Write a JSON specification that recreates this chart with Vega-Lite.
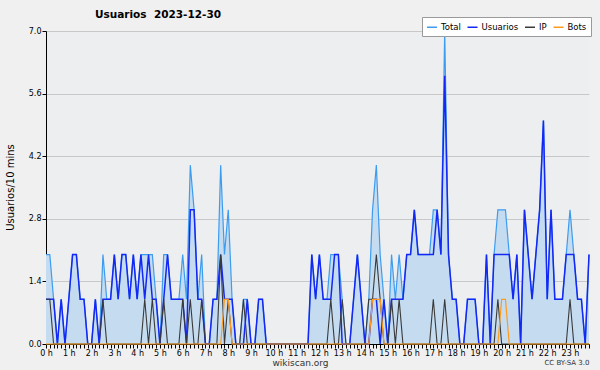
{
  "$schema": "https://vega.github.io/schema/vega-lite/v6.json",
  "width": 543,
  "height": 313,
  "autosize": {"type": "none"},
  "padding": {"left": 46, "top": 31, "right": 11, "bottom": 26},
  "background": "#f0f0f0",
  "config": {"view": {"stroke": null, "fill": "#eceef0"}, "font": "DejaVu Sans"},
  "title": {"text": "Usuarios\u00a0 2023-12-30", "anchor": "start", "frame": "group", "dx": 49, "offset": -4, "fontSize": 10.5, "fontWeight": "bold", "color": "#000000"},
  "data": {"values": [
    {"min":0,"Total":2,"Usuarios":1,"IP":1,"Bots":0},
    {"min":10,"Total":2,"Usuarios":1,"IP":1,"Bots":0},
    {"min":20,"Total":1,"Usuarios":1,"IP":0,"Bots":0},
    {"min":30,"Total":0,"Usuarios":0,"IP":0,"Bots":0},
    {"min":40,"Total":1,"Usuarios":1,"IP":0,"Bots":0},
    {"min":50,"Total":0,"Usuarios":0,"IP":0,"Bots":0},
    {"min":60,"Total":1,"Usuarios":1,"IP":0,"Bots":0},
    {"min":70,"Total":2,"Usuarios":2,"IP":0,"Bots":0},
    {"min":80,"Total":2,"Usuarios":2,"IP":0,"Bots":0},
    {"min":90,"Total":1,"Usuarios":1,"IP":0,"Bots":0},
    {"min":100,"Total":1,"Usuarios":1,"IP":0,"Bots":0},
    {"min":110,"Total":0,"Usuarios":0,"IP":0,"Bots":0},
    {"min":120,"Total":0,"Usuarios":0,"IP":0,"Bots":0},
    {"min":130,"Total":1,"Usuarios":1,"IP":0,"Bots":0},
    {"min":140,"Total":0,"Usuarios":0,"IP":0,"Bots":0},
    {"min":150,"Total":2,"Usuarios":1,"IP":1,"Bots":0},
    {"min":160,"Total":1,"Usuarios":1,"IP":0,"Bots":0},
    {"min":170,"Total":1,"Usuarios":1,"IP":0,"Bots":0},
    {"min":180,"Total":2,"Usuarios":2,"IP":0,"Bots":0},
    {"min":190,"Total":1,"Usuarios":1,"IP":0,"Bots":0},
    {"min":200,"Total":2,"Usuarios":2,"IP":0,"Bots":0},
    {"min":210,"Total":2,"Usuarios":2,"IP":0,"Bots":0},
    {"min":220,"Total":1,"Usuarios":1,"IP":0,"Bots":0},
    {"min":230,"Total":2,"Usuarios":2,"IP":0,"Bots":0},
    {"min":240,"Total":1,"Usuarios":1,"IP":0,"Bots":0},
    {"min":250,"Total":2,"Usuarios":2,"IP":0,"Bots":0},
    {"min":260,"Total":2,"Usuarios":1,"IP":1,"Bots":0},
    {"min":270,"Total":2,"Usuarios":2,"IP":0,"Bots":0},
    {"min":280,"Total":2,"Usuarios":1,"IP":1,"Bots":0},
    {"min":290,"Total":1,"Usuarios":1,"IP":0,"Bots":0},
    {"min":300,"Total":0,"Usuarios":0,"IP":0,"Bots":0},
    {"min":310,"Total":2,"Usuarios":1,"IP":1,"Bots":0},
    {"min":320,"Total":2,"Usuarios":2,"IP":0,"Bots":0},
    {"min":330,"Total":1,"Usuarios":1,"IP":0,"Bots":0},
    {"min":340,"Total":1,"Usuarios":1,"IP":0,"Bots":0},
    {"min":350,"Total":1,"Usuarios":1,"IP":0,"Bots":0},
    {"min":360,"Total":2,"Usuarios":1,"IP":1,"Bots":0},
    {"min":370,"Total":1,"Usuarios":0,"IP":0,"Bots":0},
    {"min":380,"Total":4,"Usuarios":3,"IP":1,"Bots":0},
    {"min":390,"Total":3,"Usuarios":3,"IP":0,"Bots":0},
    {"min":400,"Total":1,"Usuarios":1,"IP":0,"Bots":0},
    {"min":410,"Total":2,"Usuarios":1,"IP":1,"Bots":0},
    {"min":420,"Total":0,"Usuarios":0,"IP":0,"Bots":0},
    {"min":430,"Total":0,"Usuarios":0,"IP":0,"Bots":0},
    {"min":440,"Total":1,"Usuarios":1,"IP":0,"Bots":0},
    {"min":450,"Total":1,"Usuarios":1,"IP":0,"Bots":0},
    {"min":460,"Total":4,"Usuarios":2,"IP":2,"Bots":0},
    {"min":470,"Total":2,"Usuarios":1,"IP":0,"Bots":1},
    {"min":480,"Total":3,"Usuarios":1,"IP":1,"Bots":1},
    {"min":490,"Total":1,"Usuarios":1,"IP":0,"Bots":0},
    {"min":500,"Total":0,"Usuarios":0,"IP":0,"Bots":0},
    {"min":510,"Total":0,"Usuarios":0,"IP":0,"Bots":0},
    {"min":520,"Total":1,"Usuarios":0,"IP":1,"Bots":0},
    {"min":530,"Total":1,"Usuarios":1,"IP":0,"Bots":0},
    {"min":540,"Total":0,"Usuarios":0,"IP":0,"Bots":0},
    {"min":550,"Total":0,"Usuarios":0,"IP":0,"Bots":0},
    {"min":560,"Total":1,"Usuarios":1,"IP":0,"Bots":0},
    {"min":570,"Total":1,"Usuarios":1,"IP":0,"Bots":0},
    {"min":580,"Total":0,"Usuarios":0,"IP":0,"Bots":0},
    {"min":590,"Total":0,"Usuarios":0,"IP":0,"Bots":0},
    {"min":600,"Total":0,"Usuarios":0,"IP":0,"Bots":0},
    {"min":610,"Total":0,"Usuarios":0,"IP":0,"Bots":0},
    {"min":620,"Total":0,"Usuarios":0,"IP":0,"Bots":0},
    {"min":630,"Total":0,"Usuarios":0,"IP":0,"Bots":0},
    {"min":640,"Total":0,"Usuarios":0,"IP":0,"Bots":0},
    {"min":650,"Total":0,"Usuarios":0,"IP":0,"Bots":0},
    {"min":660,"Total":0,"Usuarios":0,"IP":0,"Bots":0},
    {"min":670,"Total":0,"Usuarios":0,"IP":0,"Bots":0},
    {"min":680,"Total":0,"Usuarios":0,"IP":0,"Bots":0},
    {"min":690,"Total":0,"Usuarios":0,"IP":0,"Bots":0},
    {"min":700,"Total":2,"Usuarios":2,"IP":0,"Bots":0},
    {"min":710,"Total":1,"Usuarios":1,"IP":0,"Bots":0},
    {"min":720,"Total":2,"Usuarios":2,"IP":0,"Bots":0},
    {"min":730,"Total":1,"Usuarios":1,"IP":0,"Bots":0},
    {"min":740,"Total":1,"Usuarios":1,"IP":0,"Bots":0},
    {"min":750,"Total":2,"Usuarios":1,"IP":1,"Bots":0},
    {"min":760,"Total":2,"Usuarios":2,"IP":0,"Bots":0},
    {"min":770,"Total":2,"Usuarios":2,"IP":0,"Bots":0},
    {"min":780,"Total":1,"Usuarios":0,"IP":1,"Bots":0},
    {"min":790,"Total":0,"Usuarios":0,"IP":0,"Bots":0},
    {"min":800,"Total":0,"Usuarios":0,"IP":0,"Bots":0},
    {"min":810,"Total":1,"Usuarios":1,"IP":0,"Bots":0},
    {"min":820,"Total":2,"Usuarios":2,"IP":0,"Bots":0},
    {"min":830,"Total":1,"Usuarios":1,"IP":0,"Bots":0},
    {"min":840,"Total":0,"Usuarios":0,"IP":0,"Bots":0},
    {"min":850,"Total":1,"Usuarios":0,"IP":1,"Bots":0},
    {"min":860,"Total":3,"Usuarios":1,"IP":1,"Bots":1},
    {"min":870,"Total":4,"Usuarios":1,"IP":2,"Bots":1},
    {"min":880,"Total":2,"Usuarios":0,"IP":1,"Bots":1},
    {"min":890,"Total":1,"Usuarios":1,"IP":0,"Bots":0},
    {"min":900,"Total":0,"Usuarios":0,"IP":0,"Bots":0},
    {"min":910,"Total":2,"Usuarios":1,"IP":1,"Bots":0},
    {"min":920,"Total":1,"Usuarios":1,"IP":0,"Bots":0},
    {"min":930,"Total":2,"Usuarios":1,"IP":1,"Bots":0},
    {"min":940,"Total":1,"Usuarios":1,"IP":0,"Bots":0},
    {"min":950,"Total":2,"Usuarios":2,"IP":0,"Bots":0},
    {"min":960,"Total":2,"Usuarios":2,"IP":0,"Bots":0},
    {"min":970,"Total":3,"Usuarios":3,"IP":0,"Bots":0},
    {"min":980,"Total":2,"Usuarios":2,"IP":0,"Bots":0},
    {"min":990,"Total":2,"Usuarios":2,"IP":0,"Bots":0},
    {"min":1000,"Total":2,"Usuarios":2,"IP":0,"Bots":0},
    {"min":1010,"Total":2,"Usuarios":2,"IP":0,"Bots":0},
    {"min":1020,"Total":3,"Usuarios":2,"IP":1,"Bots":0},
    {"min":1030,"Total":3,"Usuarios":3,"IP":0,"Bots":0},
    {"min":1040,"Total":2,"Usuarios":2,"IP":0,"Bots":0},
    {"min":1050,"Total":7,"Usuarios":6,"IP":1,"Bots":0},
    {"min":1060,"Total":2,"Usuarios":2,"IP":0,"Bots":0},
    {"min":1070,"Total":1,"Usuarios":1,"IP":0,"Bots":0},
    {"min":1080,"Total":1,"Usuarios":1,"IP":0,"Bots":0},
    {"min":1090,"Total":0,"Usuarios":0,"IP":0,"Bots":0},
    {"min":1100,"Total":0,"Usuarios":0,"IP":0,"Bots":0},
    {"min":1110,"Total":1,"Usuarios":1,"IP":0,"Bots":0},
    {"min":1120,"Total":1,"Usuarios":1,"IP":0,"Bots":0},
    {"min":1130,"Total":1,"Usuarios":1,"IP":0,"Bots":0},
    {"min":1140,"Total":0,"Usuarios":0,"IP":0,"Bots":0},
    {"min":1150,"Total":0,"Usuarios":0,"IP":0,"Bots":0},
    {"min":1160,"Total":2,"Usuarios":2,"IP":0,"Bots":0},
    {"min":1170,"Total":0,"Usuarios":0,"IP":0,"Bots":0},
    {"min":1180,"Total":2,"Usuarios":2,"IP":0,"Bots":0},
    {"min":1190,"Total":3,"Usuarios":2,"IP":1,"Bots":0},
    {"min":1200,"Total":3,"Usuarios":2,"IP":0,"Bots":1},
    {"min":1210,"Total":3,"Usuarios":2,"IP":0,"Bots":1},
    {"min":1220,"Total":2,"Usuarios":2,"IP":0,"Bots":0},
    {"min":1230,"Total":1,"Usuarios":1,"IP":0,"Bots":0},
    {"min":1240,"Total":2,"Usuarios":2,"IP":0,"Bots":0},
    {"min":1250,"Total":0,"Usuarios":0,"IP":0,"Bots":0},
    {"min":1260,"Total":3,"Usuarios":3,"IP":0,"Bots":0},
    {"min":1270,"Total":2,"Usuarios":2,"IP":0,"Bots":0},
    {"min":1280,"Total":1,"Usuarios":1,"IP":0,"Bots":0},
    {"min":1290,"Total":2,"Usuarios":2,"IP":0,"Bots":0},
    {"min":1300,"Total":3,"Usuarios":3,"IP":0,"Bots":0},
    {"min":1310,"Total":5,"Usuarios":5,"IP":0,"Bots":0},
    {"min":1320,"Total":1,"Usuarios":1,"IP":0,"Bots":0},
    {"min":1330,"Total":3,"Usuarios":3,"IP":0,"Bots":0},
    {"min":1340,"Total":1,"Usuarios":1,"IP":0,"Bots":0},
    {"min":1350,"Total":1,"Usuarios":1,"IP":0,"Bots":0},
    {"min":1360,"Total":1,"Usuarios":1,"IP":0,"Bots":0},
    {"min":1370,"Total":2,"Usuarios":2,"IP":0,"Bots":0},
    {"min":1380,"Total":3,"Usuarios":2,"IP":1,"Bots":0},
    {"min":1390,"Total":2,"Usuarios":2,"IP":0,"Bots":0},
    {"min":1400,"Total":1,"Usuarios":1,"IP":0,"Bots":0},
    {"min":1410,"Total":1,"Usuarios":1,"IP":0,"Bots":0},
    {"min":1420,"Total":0,"Usuarios":0,"IP":0,"Bots":0},
    {"min":1430,"Total":2,"Usuarios":2,"IP":0,"Bots":0}
  ]},
  "resolve": {"axis": {"x": "independent"}},
  "layer": [
    {
      "mark": {"type": "area", "color": "#c5dcf0", "opacity": 1, "interpolate": "linear"},
      "encoding": {
        "x": {"field": "min", "type": "quantitative", "title": "wikiscan.org",
          "scale": {"domain": [0, 1430], "nice": false, "zero": false},
          "axis": {
            "values": [0,10,20,30,40,50,60,70,80,90,100,110,120,130,140,150,160,170,180,190,200,210,220,230,240,250,260,270,280,290,300,310,320,330,340,350,360,370,380,390,400,410,420,430,440,450,460,470,480,490,500,510,520,530,540,550,560,570,580,590,600,610,620,630,640,650,660,670,680,690,700,710,720,730,740,750,760,770,780,790,800,810,820,830,840,850,860,870,880,890,900,910,920,930,940,950,960,970,980,990,1000,1010,1020,1030,1040,1050,1060,1070,1080,1090,1100,1110,1120,1130,1140,1150,1160,1170,1180,1190,1200,1210,1220,1230,1240,1250,1260,1270,1280,1290,1300,1310,1320,1330,1340,1350,1360,1370,1380,1390,1400,1410,1420,1430],
            "labelExpr": "datum.value % 60 === 0 ? (datum.value / 60) + ' h' : ''",
            "labelOverlap": false, "labelFlush": false, "labelAngle": 0,
            "labelFontSize": 8, "labelColor": "#000000", "labelPadding": 1,
            "grid": false, "tickSize": 4, "tickColor": "#000000", "domainColor": "#000000",
            "titleFontSize": 9, "titleFontWeight": "normal", "titleColor": "#333333",
            "titleX": 254, "titleY": 18, "titleBaseline": "middle", "titleAlign": "center"
          }
        },
        "y": {"field": "Total", "type": "quantitative", "title": "Usuarios/10 mins",
          "scale": {"domain": [0, 7], "nice": false},
          "axis": {
            "values": [0,0.35,0.7,1.05,1.4,1.75,2.1,2.45,2.8,3.15,3.5,3.85,4.2,4.55,4.9,5.25,5.6,5.95,6.3,6.65,7],
            "labelExpr": "abs(datum.value / 1.4 - round(datum.value / 1.4)) < 0.01 ? format(datum.value, '.1f') : ''",
            "gridOpacity": {"condition": {"test": "abs(datum.value / 1.4 - round(datum.value / 1.4)) < 0.01 && datum.value > 0", "value": 1}, "value": 0},
            "gridColor": "#c8c8c8", "gridWidth": 1,
            "labelOverlap": false, "labelFlush": false,
            "labelFontSize": 8, "labelColor": "#000000", "labelPadding": 1,
            "tickSize": 4, "tickColor": "#000000", "domainColor": "#000000",
            "titleFontSize": 10, "titleFontWeight": "normal", "titleColor": "#000000",
            "titleX": -36, "titleY": 156, "titleAlign": "center", "titleBaseline": "middle"
          }
        }
      }
    },
    {
      "layer": [
        {
          "mark": {"type": "line", "strokeWidth": 1.2, "interpolate": "linear"},
          "encoding": {
            "x": {"field": "min", "type": "quantitative", "title": "CC BY-SA 3.0",
              "axis": {"orient": "bottom", "labels": false, "ticks": false, "domain": false, "grid": false,
                "titleFontSize": 7, "titleFontWeight": "normal", "titleColor": "#333333",
                "titleX": 543, "titleY": 18, "titleAlign": "right", "titleBaseline": "middle"}},
            "y": {"field": "Total", "type": "quantitative", "title": "Usuarios/10 mins"},
            "color": {"datum": "Total", "type": "nominal",
              "scale": {"domain": ["Total", "Usuarios", "IP", "Bots"], "range": ["#3d9cf0", "#1428f5", "#3a3a3a", "#ff9a1a"]},
              "legend": {"orient": "none", "legendX": 376, "legendY": -14, "direction": "horizontal", "title": null,
                "fillColor": "#ffffff", "strokeColor": "#9a9a9a", "padding": 4,
                "symbolType": "stroke", "symbolSize": 100, "symbolStrokeWidth": 1.5,
                "labelFontSize": 8.5, "labelColor": "#000000", "labelOffset": 3, "columnPadding": 3.5}}
          }
        },
        {
          "mark": {"type": "line", "strokeWidth": 1.5, "interpolate": "linear"},
          "encoding": {
            "x": {"field": "min", "type": "quantitative", "title": "CC BY-SA 3.0"},
            "y": {"field": "Usuarios", "type": "quantitative", "title": "Usuarios/10 mins"},
            "color": {"datum": "Usuarios", "type": "nominal"}
          }
        },
        {
          "mark": {"type": "line", "strokeWidth": 1.1, "interpolate": "linear"},
          "encoding": {
            "x": {"field": "min", "type": "quantitative", "title": "CC BY-SA 3.0"},
            "y": {"field": "IP", "type": "quantitative", "title": "Usuarios/10 mins"},
            "color": {"datum": "IP", "type": "nominal"}
          }
        },
        {
          "mark": {"type": "line", "strokeWidth": 1.2, "interpolate": "linear"},
          "encoding": {
            "x": {"field": "min", "type": "quantitative", "title": "CC BY-SA 3.0"},
            "y": {"field": "Bots", "type": "quantitative", "title": "Usuarios/10 mins"},
            "color": {"datum": "Bots", "type": "nominal"}
          }
        }
      ]
    }
  ]
}
